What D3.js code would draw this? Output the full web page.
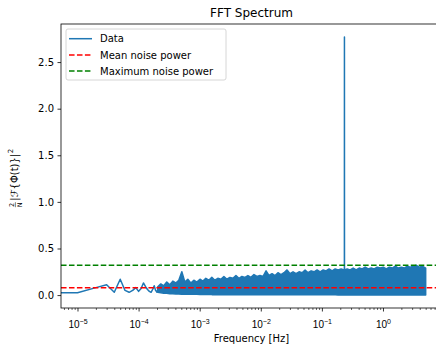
<!DOCTYPE html>
<html>
<head>
<meta charset="utf-8">
<script src="https://cdn.jsdelivr.net/npm/d3@7"></script>
<style>
  body { margin: 0; background: #fff; overflow: hidden; }
  svg { display: block; font-family: "DejaVu Sans", sans-serif; }
</style>
</head>
<body>
<svg id="chart" width="436" height="347"></svg>
<script>
// low-frequency bins, drawn as a plain line (f = 0 is the DC bin)
const sparseFreq = [0, 1e-5, 2e-5, 3e-5, 4e-5, 5e-5, 6e-5, 7e-5, 8e-5, 9e-5, 1e-4,
  1.1e-4, 1.2e-4, 1.3e-4, 1.4e-4, 1.5e-4, 1.6e-4, 1.7e-4, 1.8e-4, 1.9e-4, 2.0e-4];
const sparsePower = [0.026, 0.026, 0.08, 0.11, 0.03, 0.17, 0.05, 0.03, 0.05, 0.08, 0.04,
  0.07, 0.13, 0.09, 0.06, 0.04, 0.03, 0.06, 0.10, 0.05, 0.03];

// dense part: too many bins to draw one by one, so keep the envelope
const bandFreq = [
  2.06e-4, 2.31e-4, 2.58e-4, 2.89e-4, 3.24e-4, 3.63e-4, 4.06e-4, 4.55e-4, 5.1e-4, 5.71e-4,
  6.39e-4, 7.16e-4, 8.02e-4, 8.98e-4, 1.01e-3, 1.13e-3, 1.26e-3, 1.41e-3, 1.58e-3, 1.77e-3,
  1.98e-3, 2.22e-3, 2.49e-3, 2.79e-3, 3.12e-3, 3.5e-3, 3.92e-3, 4.39e-3, 4.91e-3, 5.5e-3,
  6.16e-3, 6.9e-3, 7.73e-3, 8.66e-3, 9.7e-3, 1.09e-2, 1.22e-2, 1.36e-2, 1.53e-2, 1.71e-2,
  1.91e-2, 2.14e-2, 2.4e-2, 2.69e-2, 3.01e-2, 3.37e-2, 3.78e-2, 4.23e-2, 4.74e-2, 5.31e-2,
  5.94e-2, 6.66e-2, 7.45e-2, 8.35e-2, 9.35e-2, 0.105, 0.117, 0.131, 0.147, 0.165,
  0.184, 0.206, 0.2335, 0.234, 0.2345, 0.259, 0.29, 0.325, 0.364, 0.408,
  0.457, 0.511, 0.573, 0.641, 0.718, 0.805, 0.901, 1.01, 1.13, 1.27,
  1.42, 1.59, 1.78, 1.99, 2.23, 2.5, 2.8, 3.13, 3.51, 3.93,
  4.4, 5.0];
const bandUpper = [
  0.09, 0.12, 0.10, 0.14, 0.11, 0.15, 0.13, 0.16, 0.25, 0.14,
  0.17, 0.13, 0.16, 0.14, 0.17, 0.15, 0.18, 0.16, 0.19, 0.16,
  0.18, 0.17, 0.20, 0.17, 0.19, 0.18, 0.21, 0.18, 0.20, 0.19,
  0.21, 0.19, 0.22, 0.20, 0.21, 0.20, 0.26, 0.21, 0.23, 0.21,
  0.24, 0.22, 0.24, 0.27, 0.23, 0.25, 0.23, 0.25, 0.24, 0.27,
  0.24, 0.26, 0.25, 0.27, 0.25, 0.27, 0.26, 0.28, 0.26, 0.28,
  0.27, 0.28, 0.27, 2.77, 0.27, 0.28, 0.27, 0.29, 0.27, 0.29,
  0.28, 0.30, 0.28, 0.29, 0.28, 0.30, 0.29, 0.30, 0.28, 0.30,
  0.29, 0.31, 0.29, 0.30, 0.29, 0.31, 0.30, 0.31, 0.32, 0.30,
  0.31, 0.29];
const bandLower = [
  0.03, 0.025, 0.02, 0.02, 0.015, 0.015, 0.012, 0.012, 0.01, 0.01,
  0.01, 0.01, 0.008, 0.008, 0.007, 0.007, 0.006, 0.006, 0.005, 0.005,
  0.005, 0.005, 0.005, 0.005, 0.005, 0.005, 0.005, 0.005, 0.005, 0.005,
  0.004, 0.004, 0.004, 0.004, 0.004, 0.004, 0.004, 0.004, 0.004, 0.004,
  0.003, 0.003, 0.003, 0.003, 0.003, 0.003, 0.003, 0.003, 0.003, 0.003,
  0.003, 0.003, 0.003, 0.003, 0.003, 0.003, 0.003, 0.003, 0.003, 0.003,
  0.002, 0.002, 0.002, 0.002, 0.002, 0.002, 0.002, 0.002, 0.002, 0.002,
  0.002, 0.002, 0.002, 0.002, 0.002, 0.002, 0.002, 0.002, 0.002, 0.002,
  0.002, 0.002, 0.002, 0.002, 0.002, 0.002, 0.002, 0.002, 0.002, 0.002,
  0.002, 0.002];

const meanNoise = 0.08;
const maxNoise = 0.32;

const yTicks = [0, 0.5, 1.0, 1.5, 2.0, 2.5];
const xTickExp = [-5, -4, -3, -2, -1, 0];
const legendLabels = ["Data", "Mean noise power", "Maximum noise power"];

const blue = "#1f77b4";
const m = { l: 61, r: 442, t: 24, b: 308 };

const svg = d3.select("#chart");

const x = d3.scaleLog()
  .domain([Math.pow(10, -5.27), Math.pow(10, 0.966)])
  .range([m.l, m.r]);
const y = d3.scaleLinear()
  .domain([-0.1385, 2.9085])
  .range([m.b, m.t]);

svg.append("defs").append("clipPath").attr("id", "plot")
  .append("rect")
  .attr("x", m.l).attr("y", m.t)
  .attr("width", m.r - m.l).attr("height", m.b - m.t);

const plot = svg.append("g").attr("clip-path", "url(#plot)");

// log scale can't take 0, clip it to a tiny value like matplotlib does
const fx = f => x(Math.max(f, 1e-12));

plot.append("path")
  .datum(d3.range(sparseFreq.length).concat([-1]))
  .attr("fill", "none")
  .attr("stroke", blue)
  .attr("stroke-width", 1.5)
  .attr("stroke-linejoin", "round")
  .attr("d", d3.line()
    .x(i => i < 0 ? fx(bandFreq[0]) : fx(sparseFreq[i]))
    .y(i => i < 0 ? y((bandUpper[0] + bandLower[0]) / 2) : y(sparsePower[i])));

plot.append("path")
  .datum(d3.range(bandFreq.length))
  .attr("fill", blue)
  .attr("stroke", blue)
  .attr("stroke-width", 1.5)
  .attr("stroke-linejoin", "round")
  .attr("d", d3.area()
    .x(i => fx(bandFreq[i]))
    .y0(i => y(bandLower[i]))
    .y1(i => y(bandUpper[i])));

// noise levels
[[meanNoise, "#ff0000"], [maxNoise, "#008000"]].forEach(([v, c]) => {
  plot.append("line")
    .attr("x1", m.l).attr("x2", m.r)
    .attr("y1", y(v)).attr("y2", y(v))
    .attr("stroke", c)
    .attr("stroke-width", 1.5)
    .attr("stroke-dasharray", "5.55,2.4");
});

// y axis
const yAxis = svg.append("g")
  .attr("transform", `translate(${m.l},0)`)
  .call(d3.axisLeft(y).tickValues(yTicks).tickSize(3.5).tickPadding(3.5).tickFormat(d3.format(".1f")));
yAxis.select(".domain").remove();
yAxis.selectAll("line").attr("stroke", "#000").attr("stroke-width", 0.8);
yAxis.selectAll("text").attr("font-size", 10).attr("fill", "#000")
  .attr("font-family", "DejaVu Sans, sans-serif");

// x axis, minor then major ticks
const minor = [];
for (let k = -6; k <= 0; k++) {
  for (let j = 2; j <= 9; j++) {
    const v = j * Math.pow(10, k);
    if (v > x.domain()[0] && v < x.domain()[1]) minor.push(v);
  }
}
const xMinor = svg.append("g")
  .attr("transform", `translate(0,${m.b})`)
  .call(d3.axisBottom(x).tickValues(minor).tickSize(2).tickFormat(""));
xMinor.select(".domain").remove();
xMinor.selectAll("line").attr("stroke", "#000").attr("stroke-width", 0.6);

const xAxis = svg.append("g")
  .attr("transform", `translate(0,${m.b})`)
  .call(d3.axisBottom(x).tickValues(xTickExp.map(e => Math.pow(10, e))).tickSize(3.5).tickFormat(""));
xAxis.select(".domain").remove();
xAxis.selectAll("line").attr("stroke", "#000").attr("stroke-width", 0.8);
xAxis.selectAll(".tick").each(function (d, i) {
  const t = d3.select(this).append("text")
    .attr("y", 20)
    .attr("fill", "#000")
    .attr("font-size", 10)
    .attr("text-anchor", "middle");
  t.append("tspan").text("10");
  const e = xTickExp[i];
  t.append("tspan").attr("dy", -4.5).attr("font-size", 7)
    .text(e < 0 ? "\u2212" + Math.abs(e) : String(e));
});

// spines
svg.append("rect")
  .attr("x", m.l).attr("y", m.t)
  .attr("width", m.r - m.l).attr("height", m.b - m.t)
  .attr("fill", "none").attr("stroke", "#000").attr("stroke-width", 0.8);

// title and labels
svg.append("text")
  .attr("x", (m.l + m.r) / 2).attr("y", 17)
  .attr("text-anchor", "middle").attr("font-size", 12)
  .text("FFT Spectrum");

svg.append("text")
  .attr("x", (m.l + m.r) / 2).attr("y", 342)
  .attr("text-anchor", "middle").attr("font-size", 10)
  .text("Frequency [Hz]");

// y label: 2/N |F{Phi(t)}|^2, built piece by piece then rotated
const yl = svg.append("g").attr("transform", "translate(18,178) rotate(-90)");
const lab = yl.append("g");
let cx = 0;
lab.append("text").attr("x", cx + 2.2).attr("y", -4).attr("font-size", 6.5)
  .attr("text-anchor", "middle").text("2");
lab.append("line").attr("x1", cx).attr("x2", cx + 5).attr("y1", -2.6).attr("y2", -2.6)
  .attr("stroke", "#000").attr("stroke-width", 0.5);
lab.append("text").attr("x", cx + 2.5).attr("y", 3.5).attr("font-size", 6.5)
  .attr("text-anchor", "middle").text("N");
cx += 6.5;
const main = lab.append("text").attr("x", cx).attr("y", 0).attr("font-size", 10)
  .text("|\u2131{\u03A6(t)}|");
cx += main.node().getComputedTextLength() + 0.5;
lab.append("text").attr("x", cx).attr("y", -5).attr("font-size", 7).text("2");
cx += 4.5;
lab.attr("transform", `translate(${-cx / 2},0)`);

// legend
const lg = svg.append("g").attr("transform", "translate(66,29)");
lg.append("rect")
  .attr("width", 160).attr("height", 51).attr("rx", 2)
  .attr("fill", "#fff").attr("fill-opacity", 0.8)
  .attr("stroke", "#cccccc").attr("stroke-width", 0.8);
const legendColors = [blue, "#ff0000", "#008000"];
legendLabels.forEach((name, i) => {
  const cy = 9.7 + i * 16.2;
  lg.append("line")
    .attr("x1", 3).attr("x2", 26).attr("y1", cy).attr("y2", cy)
    .attr("stroke", legendColors[i]).attr("stroke-width", 1.5)
    .attr("stroke-dasharray", i === 0 ? null : "5.55,2.4");
  lg.append("text")
    .attr("x", 34).attr("y", cy + 3.6)
    .attr("font-size", 10)
    .text(name);
});
</script>
</body>
</html>
